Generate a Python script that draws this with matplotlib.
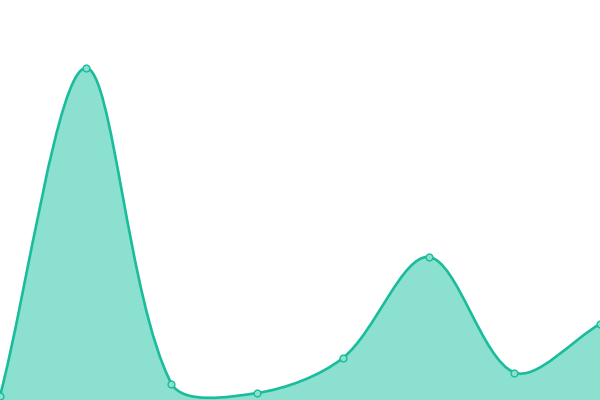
import numpy as np
import matplotlib
matplotlib.use("Agg")
import matplotlib.pyplot as plt
from matplotlib.path import Path
from matplotlib.patches import PathPatch

# valores (escala 0..400)
idx = [0, 1, 2, 3, 4, 5, 6, 7]
valores = [4, 332, 16.5, 7, 42, 143, 27.5, 76]

cor_linha = "#1abc9c"
cor_area = "#8ce0cf"

fig = plt.figure(figsize=(6, 4), dpi=100)
ax = fig.add_axes([0, 0, 1, 1])
ax.set_xlim(0, 7)
ax.set_ylim(0, 400)
ax.axis("off")

# spline com tensao (calculada em pixels)
pts = np.array([ax.transData.transform((x, y)) for x, y in zip(idx, valores)])
t = 0.32
cps = []
for i in range(len(pts)):
    prev = pts[i - 1] if i > 0 else pts[i]
    nxt = pts[i + 1] if i < len(pts) - 1 else pts[i]
    d01 = np.hypot(*(pts[i] - prev))
    d12 = np.hypot(*(nxt - pts[i]))
    s = d01 + d12
    s01 = d01 / s if s else 0
    s12 = d12 / s if s else 0
    cps.append((pts[i] - t * s01 * (nxt - prev), pts[i] + t * s12 * (nxt - prev)))

verts = [pts[0]]
codes = [Path.MOVETO]
for i in range(len(pts) - 1):
    verts += [cps[i][1], cps[i + 1][0], pts[i + 1]]
    codes += [Path.CURVE4] * 3
inv = ax.transData.inverted()
verts_d = inv.transform(np.array(verts))

linha = Path(verts_d, codes)
area_v = list(verts_d) + [(idx[-1], 0), (idx[0], 0), verts_d[0]]
area_c = codes + [Path.LINETO, Path.LINETO, Path.CLOSEPOLY]
ax.add_patch(PathPatch(Path(area_v, area_c), facecolor=cor_area, edgecolor="none"))
ax.add_patch(PathPatch(linha, facecolor="none", edgecolor=cor_linha, lw=1.9))
ax.scatter(idx, valores, s=24, facecolor=cor_area, edgecolor=cor_linha, lw=1, zorder=3, clip_on=False)

fig.savefig("out.png", dpi=100)
